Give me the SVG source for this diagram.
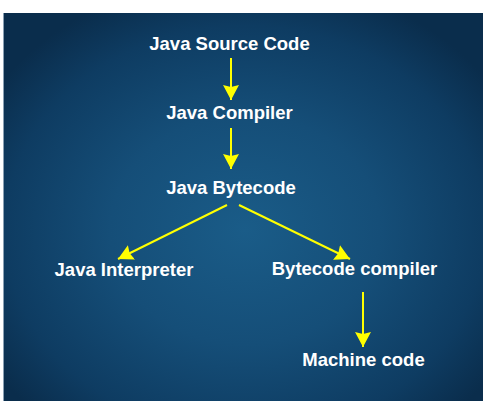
<svg xmlns="http://www.w3.org/2000/svg" width="500" height="420" viewBox="0 0 500 420">
  <defs>
    <radialGradient id="bg" cx="245" cy="230" r="300" gradientUnits="userSpaceOnUse" gradientTransform="translate(245 230) scale(1 0.85) translate(-245 -230)">
      <stop offset="0" stop-color="#1a5c88"/>
      <stop offset="0.45" stop-color="#154e78"/>
      <stop offset="0.8" stop-color="#0e3c62"/>
      <stop offset="1" stop-color="#0a2d4c"/>
    </radialGradient>
    <marker id="ah" markerUnits="userSpaceOnUse" markerWidth="16" markerHeight="16" refX="15" refY="8" orient="auto">
      <path d="M0,0 L15,8 L0,16 L2,8 z" fill="#ffff00"/>
    </marker>
    <style>
      .lbl { font-family: "Liberation Sans", Arial, sans-serif; font-weight: bold; font-size: 18.5px; fill: #ffffff; text-anchor: middle; }
      .arr { stroke: #ffff00; stroke-width: 2; fill: none; marker-end: url(#ah); }
    </style>
  </defs>
  <rect x="0" y="0" width="500" height="420" fill="#ffffff"/>
  <rect x="3" y="13" width="480" height="388" fill="url(#bg)"/>
  <line x1="3.5" y1="13" x2="3.5" y2="401" stroke="#8aa0b4" stroke-width="1"/>
  <g id="connectors">
    <line class="arr" x1="231" y1="58" x2="231" y2="100"/>
    <line class="arr" x1="231" y1="128" x2="231" y2="169"/>
    <line class="arr" x1="227" y1="205" x2="118" y2="259"/>
    <line class="arr" x1="239" y1="205" x2="350" y2="259"/>
    <line class="arr" x1="363" y1="292" x2="363" y2="347"/>
  </g>
  <g id="java-source-code"><text class="lbl" x="229.5" y="50">Java Source Code</text></g>
  <g id="java-compiler"><text class="lbl" x="229.5" y="119">Java Compiler</text></g>
  <g id="java-bytecode"><text class="lbl" x="231" y="194">Java Bytecode</text></g>
  <g id="java-interpreter"><text class="lbl" x="124" y="276">Java Interpreter</text></g>
  <g id="bytecode-compiler"><text class="lbl" x="354.5" y="275">Bytecode compiler</text></g>
  <g id="machine-code"><text class="lbl" x="363.5" y="366">Machine code</text></g>
</svg>
